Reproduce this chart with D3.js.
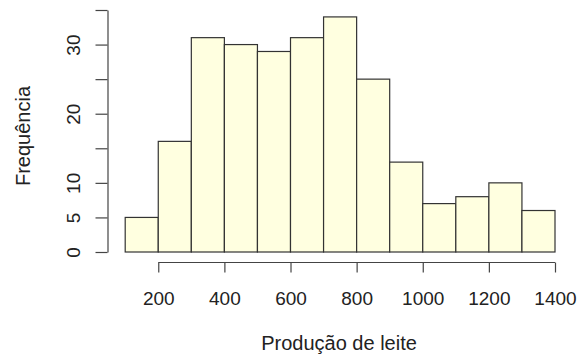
<!DOCTYPE html>
<html>
<head>
<meta charset="utf-8">
<script src="https://cdnjs.cloudflare.com/ajax/libs/d3/7.8.5/d3.min.js"></script>
<style>
  body { margin: 0; background: #fff; }
  text { font-family: "Liberation Sans", Arial, sans-serif; fill: #222; }
</style>
</head>
<body>
<div id="chart"></div>
<script>
// histogram bins (Produção de leite) and counts
var binStarts = [100, 200, 300, 400, 500, 600, 700, 800, 900, 1000, 1100, 1200, 1300];
var binWidth = 100;
var counts = [5, 16, 31, 30, 29, 31, 34, 25, 13, 7, 8, 10, 6];
var xTicks = [200, 400, 600, 800, 1000, 1200, 1400];
var yTicks = [0, 5, 10, 15, 20, 25, 30, 35];
var yLabels = [0, 5, 10, 20, 30];

var svgWidth = 587;
var svgHeight = 356;

var svg = d3.select("#chart")
    .append("svg")
    .attr("width", svgWidth)
    .attr("height", svgHeight);

var xScale = d3.scaleLinear()
    .domain([100, 1400])
    .range([125.2, 555]);

var yScale = d3.scaleLinear()
    .domain([0, 35])
    .range([252, 10]);

// bars
svg.append("g").selectAll("rect")
    .data(counts)
    .enter()
    .append("rect")
    .attr("x", (d, i) => xScale(binStarts[i]))
    .attr("width", (d, i) => xScale(binStarts[i] + binWidth) - xScale(binStarts[i]))
    .attr("y", d => yScale(d))
    .attr("height", d => yScale(0) - yScale(d))
    .attr("fill", "#ffffe0")
    .attr("stroke", "#333")
    .attr("stroke-width", 1.2);

// x axis
var bottomAxis = d3.axisBottom(xScale)
    .tickValues(xTicks)
    .tickSize(10)
    .tickSizeOuter(0)
    .tickFormat(d3.format("d"));

var xAxis = svg.append("g")
    .attr("transform", "translate(0, 262.5)")
    .call(bottomAxis);
xAxis.select(".domain").attr("d", `M${xScale(200)},0H${xScale(1400)}`);
xAxis.selectAll("line, path").attr("stroke", "#444").attr("stroke-width", 1.2);
xAxis.selectAll("text")
    .attr("font-size", 19)
    .attr("fill", "#222")
    .attr("font-family", "Liberation Sans, Arial, sans-serif")
    .attr("y", 42.5)
    .attr("dy", null);

// y axis
var leftAxis = d3.axisLeft(yScale)
    .tickValues(yTicks)
    .tickSize(12)
    .tickSizeOuter(0)
    .tickFormat(d => yLabels.indexOf(d) >= 0 ? d : "");

var yAxis = svg.append("g")
    .attr("transform", "translate(107.5, 0)")
    .call(leftAxis);
yAxis.selectAll("line, path").attr("stroke", "#444").attr("stroke-width", 1.2);
yAxis.selectAll("text")
    .attr("font-size", 19)
    .attr("fill", "#222")
    .attr("font-family", "Liberation Sans, Arial, sans-serif")
    .attr("text-anchor", "middle")
    .attr("x", 0)
    .attr("y", 0)
    .attr("dy", null)
    .attr("transform", "translate(-27.5, 0) rotate(-90)");

// labels
svg.append("text")
    .attr("x", 339)
    .attr("y", 350)
    .attr("text-anchor", "middle")
    .attr("font-size", 20)
    .text("Produção de leite");

svg.append("text")
    .attr("transform", "translate(29.5, 136) rotate(-90)")
    .attr("text-anchor", "middle")
    .attr("font-size", 20)
    .text("Frequência");
</script>
</body>
</html>
